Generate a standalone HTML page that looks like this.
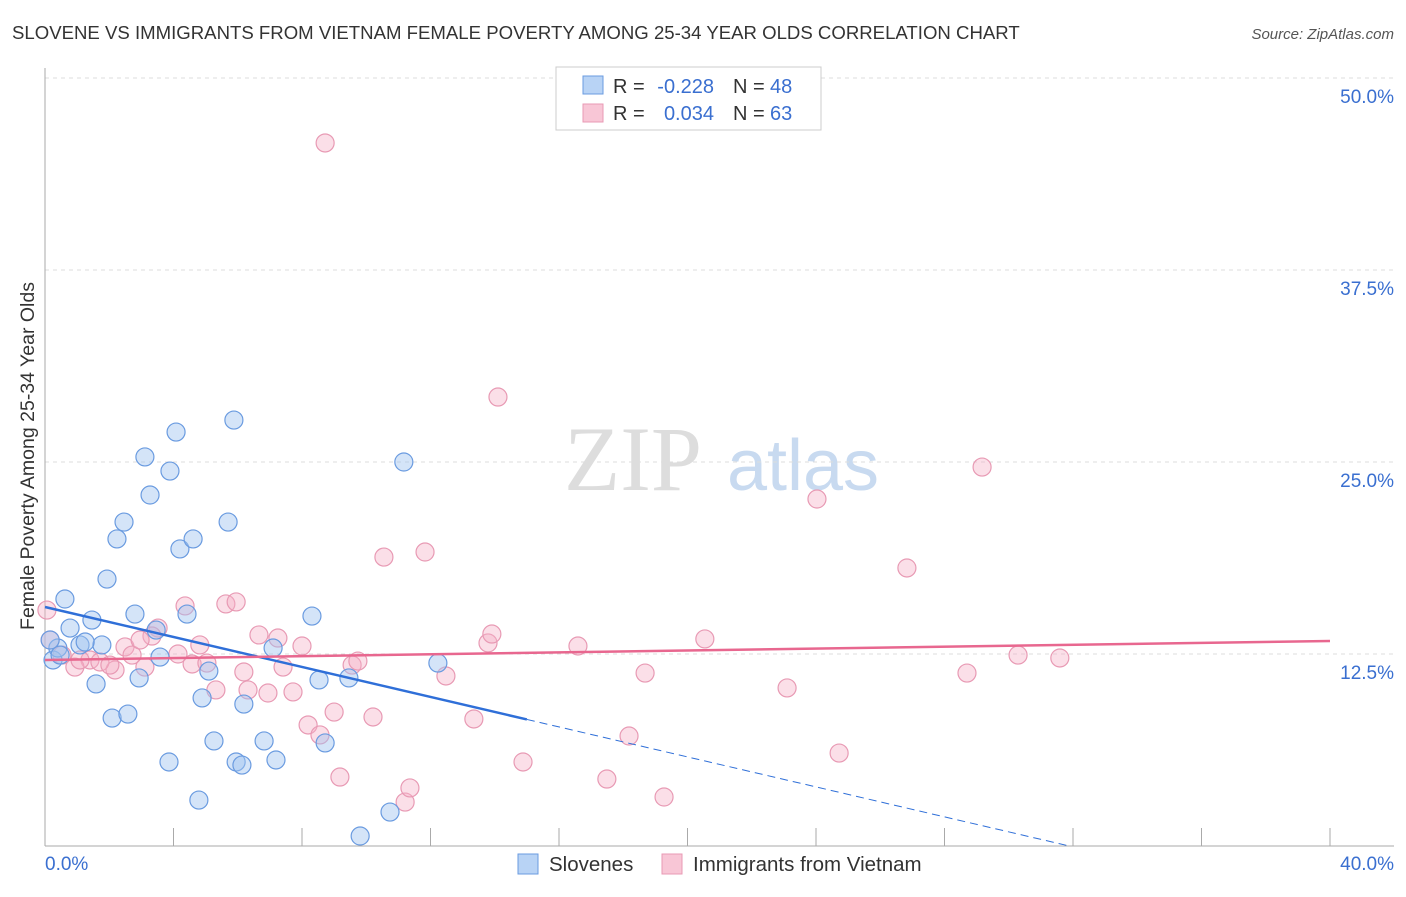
<!DOCTYPE html>
<html><head><meta charset="utf-8"><style>
body{margin:0;background:#fff;font-family:"Liberation Sans",sans-serif}
</style></head><body>
<svg id="chart" width="1406" height="892" xmlns="http://www.w3.org/2000/svg" font-family="Liberation Sans, sans-serif">
<text x="12" y="39" font-size="18.6" fill="#333">SLOVENE VS IMMIGRANTS FROM VIETNAM FEMALE POVERTY AMONG 25-34 YEAR OLDS CORRELATION CHART</text>
<text x="1394" y="39" font-size="15" fill="#555" text-anchor="end" font-style="italic">Source: ZipAtlas.com</text>
<g><text x="633" y="490" font-size="92" fill="#ddd" font-family="Liberation Serif, serif" text-anchor="middle">ZIP</text><text x="803" y="490" font-size="72" fill="#c8daf0" text-anchor="middle">atlas</text></g>
<g id="grid"></g><g id="axes"></g><g id="marks"></g>
<text transform="translate(34,456) rotate(-90)" font-size="19.5" fill="#333" text-anchor="middle">Female Poverty Among 25-34 Year Olds</text>
<g>
<rect x="556" y="67" width="265" height="63" fill="#fff" stroke="#ccc"/>
<rect x="583" y="76" width="20" height="18" fill="#b8d3f5" stroke="#6a9be0"/>
<text x="613" y="93" font-size="20" fill="#333">R =</text>
<text x="714" y="93" font-size="20" fill="#3a6fd0" text-anchor="end">-0.228</text>
<text x="733" y="93" font-size="20" fill="#333">N =</text>
<text x="770" y="93" font-size="20" fill="#3a6fd0">48</text>
<rect x="583" y="104" width="20" height="18" fill="#f8c6d6" stroke="#e89ab4"/>
<text x="613" y="120" font-size="20" fill="#333">R =</text>
<text x="714" y="120" font-size="20" fill="#3a6fd0" text-anchor="end">0.034</text>
<text x="733" y="120" font-size="20" fill="#333">N =</text>
<text x="770" y="120" font-size="20" fill="#3a6fd0">63</text>
</g>
<g>
<rect x="518" y="854" width="20" height="20" fill="#b8d3f5" stroke="#6a9be0"/>
<text x="549" y="871" font-size="20.5" fill="#333">Slovenes</text>
<rect x="662" y="854" width="20" height="20" fill="#f8c6d6" stroke="#e89ab4"/>
<text x="693" y="871" font-size="20.5" fill="#333">Immigrants from Vietnam</text>
</g>
</svg>
<script>
const yTicks=[12.5,25,37.5,50];
const yTickLabels=["12.5%","25.0%","37.5%","50.0%"];
const blueX=[0.62,0.25,0.78,0.40,1.09,1.46,1.77,1.59,1.93,2.24,2.46,2.80,2.09,2.58,2.93,3.11,3.27,3.46,3.58,3.89,4.08,4.20,4.42,4.61,3.86,4.79,4.89,5.10,5.26,5.70,5.88,6.19,5.95,6.13,6.82,7.19,7.10,8.31,8.53,8.72,9.46,9.81,10.74,11.17,12.23,0.16,0.47,1.25];
const blueY=[16.08,12.11,14.19,12.89,13.09,14.71,13.09,10.55,17.38,19.99,21.09,15.10,8.33,8.59,10.94,25.33,22.85,14.06,12.30,24.41,26.95,19.34,15.10,19.99,5.47,2.99,9.64,11.39,6.84,21.09,27.73,9.24,5.47,5.27,6.84,5.60,12.89,14.97,10.81,6.71,10.94,0.65,2.21,25.00,11.91,13.41,12.43,13.28];
const pinkX=[8.72,14.10,29.17,24.03,26.83,10.55,11.83,4.36,5.63,5.95,3.52,3.33,2.49,2.18,1.40,0.93,0.53,1.71,2.71,3.11,4.14,4.58,4.82,5.04,5.32,6.19,6.32,6.66,6.94,7.25,7.41,7.72,8.00,8.19,8.56,9.00,9.18,9.56,9.74,10.21,11.21,11.36,12.48,13.35,13.79,13.91,14.88,16.59,17.49,18.18,18.68,19.27,20.54,23.10,24.72,28.70,30.29,31.59,0.06,0.16,1.09,2.96,2.02];
const pinkY=[45.77,29.23,24.67,22.59,18.10,18.81,19.14,15.63,15.76,15.89,14.19,13.67,12.96,11.46,12.11,11.65,12.43,11.98,12.43,11.65,12.50,11.85,13.09,11.91,10.16,11.33,10.16,13.74,9.96,13.54,11.65,10.03,13.02,7.88,7.23,8.72,4.49,11.78,12.04,8.40,2.86,3.78,11.07,8.27,13.22,13.80,5.47,13.02,4.36,7.16,11.26,3.19,13.48,10.29,6.05,11.26,12.43,12.24,15.36,13.41,12.11,13.41,11.78];
const blueTrend=[15.56,-0.488];
const pinkTrend=[12.11,0.031];
const blueSolidEnd=15.0;
const NS="http://www.w3.org/2000/svg";
const sx=v=>45+v/40*1285, sy=v=>846-v/50*768;
function mk(tag,attrs,parent){const e=document.createElementNS(NS,tag);for(const k in attrs)e.setAttribute(k,attrs[k]);document.getElementById(parent).appendChild(e);return e;}
yTicks.forEach((t,i)=>{
 const g=mk('line',{x1:45,x2:1394,y1:sy(t),y2:sy(t),stroke:'#ddd','stroke-dasharray':'4,4'},'grid');
 
 
 const l=mk('text',{x:1394,y:sy(t)+25,'font-size':19,fill:'#3a6fd0','text-anchor':'end'},'axes');
 l.textContent=yTickLabels[i];
 
 
});
const ax=mk('line',{x1:45,x2:45,y1:68,y2:846,stroke:'#aaa'},'axes');


const bx=mk('line',{x1:45,x2:1394,y1:846,y2:846,stroke:'#aaa'},'axes');


for(let t=4;t<=40;t+=4){const k=mk('line',{x1:sx(t),x2:sx(t),y1:828,y2:846,stroke:'#aaa'},'axes');
 
 }
[["0.0%",45,"start"],["40.0%",1394,"end"]].forEach(a=>{const t=mk('text',{x:a[1],y:870,'font-size':19,fill:'#3a6fd0','text-anchor':a[2]},'axes');t.textContent=a[0];
 
 });
pinkX.forEach((x,i)=>{const c=mk('circle',{cx:sx(x),cy:sy(pinkY[i]),r:9,fill:'rgba(245,175,198,0.4)',stroke:'#e89ab4','stroke-width':1.2},'marks');
 
 });
blueX.forEach((x,i)=>{const c=mk('circle',{cx:sx(x),cy:sy(blueY[i]),r:9,fill:'rgba(160,195,240,0.45)',stroke:'#6a9be0','stroke-width':1.2},'marks');
 
 });
const bl=v=>blueTrend[0]+blueTrend[1]*v, pl=v=>pinkTrend[0]+pinkTrend[1]*v;
const t1=mk('line',{x1:sx(0),y1:sy(bl(0)),x2:sx(blueSolidEnd),y2:sy(bl(blueSolidEnd)),stroke:'#2f6fd8','stroke-width':2.5},'marks');


const xe=-blueTrend[0]/blueTrend[1];
const t2=mk('line',{x1:sx(blueSolidEnd),y1:sy(bl(blueSolidEnd)),x2:sx(xe),y2:sy(0),stroke:'#2f6fd8','stroke-width':1,'stroke-dasharray':'8,5'},'marks');


const t3=mk('line',{x1:sx(0),y1:sy(pl(0)),x2:sx(40),y2:sy(pl(40)),stroke:'#e8678f','stroke-width':2.5},'marks');


</script>
</body></html>
